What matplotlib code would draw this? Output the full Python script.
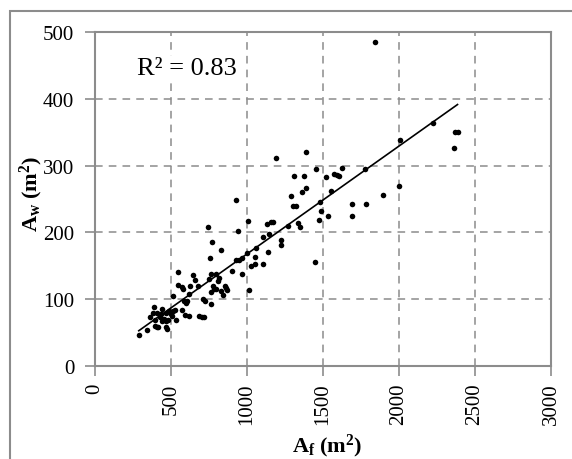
import numpy as np
import matplotlib.pyplot as plt
from matplotlib.patches import Rectangle

# floor area vs wall area
floor_area = [1839, 2224, 2007, 2368, 2385, 2363, 1774, 1625, 1575, 1591, 1606, 1522,
              1457, 1385, 1188, 1308, 1373, 1387, 1365, 1289, 1305, 1322, 1551, 1483,
              1490, 1534, 1474, 1688, 1781, 1693, 1892, 2000, 1447, 1272, 1334, 1346,
              1161, 1173, 1130, 1147, 1108, 1221, 1221, 1007, 930, 942, 745, 769, 755,
              832, 1058, 1139, 1053, 997, 969, 950, 925, 1029, 1051, 1106, 901, 966,
              1010, 642, 548, 548, 570, 577, 656, 627, 680, 762, 774, 798, 808, 817,
              750, 781, 764, 796, 832, 841, 858, 865, 870, 764, 712, 721, 687, 702,
              716, 620, 608, 584, 596, 572, 591, 620, 512, 529, 510, 488, 500, 464,
              442, 435, 452, 469, 471, 466, 534, 409, 385, 361, 392, 416, 397, 409,
              380, 341, 288, 426, 438, 481, 505]
wall_area = [485, 364, 338, 350, 350, 326, 295, 296, 288, 286, 284, 283,
             295, 320, 312, 285, 285, 267, 261, 254, 239, 239, 262, 246,
             232, 224, 218, 243, 243, 225, 256, 270, 155, 209, 214, 208,
             216, 216, 213, 197, 193, 189, 181, 217, 248, 202, 208, 186, 161,
             174, 176, 170, 163, 169, 162, 158, 158, 149, 152, 152, 142, 137,
             114, 136, 140, 122, 119, 115, 129, 120, 120, 137, 120, 137, 127, 131,
             130, 116, 111, 115, 113, 106, 120, 117, 114, 93, 100, 97, 75, 74,
             74, 108, 98, 98, 94, 84, 76, 75, 105, 84, 83, 83, 78, 79,
             86, 78, 71, 68, 55, 58, 69, 80, 88, 74, 69, 59, 60, 59,
             80, 54, 46, 73, 68, 69, 75]
r2_text = "R² = 0.83"
x_label = r"$\mathbf{A_f\ (m^2)}$"
y_label = r"$\mathbf{A_w\ (m^2)}$"
x_ticks = [0, 500, 1000, 1500, 2000, 2500, 3000]
y_ticks = [0, 100, 200, 300, 400, 500]

plt.rcParams["font.family"] = ["Liberation Serif", "DejaVu Serif"]
plt.rcParams["mathtext.fontset"] = "custom"
plt.rcParams["mathtext.rm"] = "Liberation Serif"
plt.rcParams["mathtext.bf"] = "Liberation Serif:bold"
plt.rcParams["mathtext.it"] = "Liberation Serif:italic"

frame = "#8c8c8c"
W, H = 572, 460

fig = plt.figure(figsize=(5.72, 4.6), dpi=100)
ax = fig.add_axes([95 / W, 1 - 367 / H, 456 / W, 334 / H])

# outer chart border (goes off the right and bottom)
fig.patches.append(Rectangle((10 / W, -0.05), 1.0, 1 - 12 / H + 0.05,
                             transform=fig.transFigure, fill=False,
                             edgecolor=frame, linewidth=1.5))

x = np.array(floor_area)
y = np.array(wall_area)
ax.scatter(x, y, s=16, color="black", zorder=3, linewidths=0)

# linear trendline
slope, intercept = np.polyfit(x, y, 1)
xl = np.array([x.min(), x.max()])
ax.plot(xl, slope * xl + intercept, color="black", linewidth=1.2, zorder=2)

ax.set_xlim(0, 3000)
ax.set_ylim(0, 500)
ax.set_xticks(x_ticks)
ax.set_yticks(y_ticks)
ax.set_xticklabels([str(t) for t in x_ticks], rotation=90, fontsize=15)
ax.set_yticklabels([str(t) for t in y_ticks], fontsize=15)
ax.grid(True, color=frame, linestyle=(0, (5, 4)), linewidth=1.1)
ax.set_axisbelow(True)
for sp in ax.spines.values():
    sp.set_color(frame)
    sp.set_linewidth(1.5)
ax.tick_params(direction="out", length=7, width=1.2, color=frame)
ax.tick_params(axis="x", pad=5)
ax.tick_params(axis="y", pad=8)

# axis titles placed at their spots in the reference
fig.text(327 / W, 1 - 446 / H, x_label, fontsize=16, ha="center", va="center")
fig.text(31 / W, 1 - 194 / H, y_label, fontsize=16, ha="center", va="center",
         rotation=90)

fig.text(137 / W, 1 - 75 / H, r2_text, fontsize=19,
         ha="left", va="baseline",
         bbox=dict(facecolor="white", edgecolor="none", pad=1))

fig.savefig("out.png", dpi=100)
